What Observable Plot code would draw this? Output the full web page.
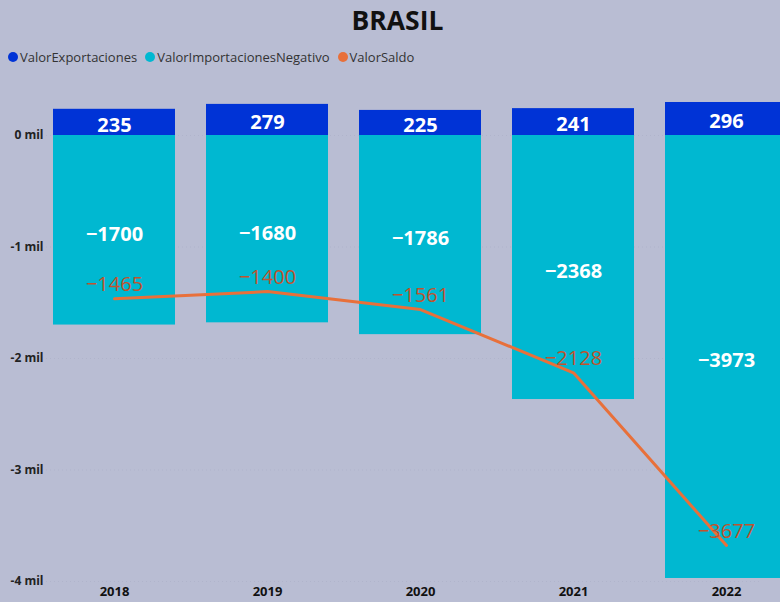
<!DOCTYPE html>
<html>
<head>
<meta charset="utf-8">
<script src="https://cdn.jsdelivr.net/npm/d3@7"></script>
<script src="https://cdn.jsdelivr.net/npm/@observablehq/plot@0.6"></script>
<style>
  html, body { margin: 0; padding: 0; background: #b9bdd3; width: 780px; height: 602px; overflow: hidden; }
  body { font-family: "Open Sans", "Noto Sans", sans-serif; }
  #title { position: absolute; left: 0; width: 795px; top: 2px; text-align: center; font-weight: 700; font-size: 26.5px; color: #111; }
  #legend { position: absolute; left: 8px; top: 48px; font-size: 13px; color: #333; display: flex; align-items: center; white-space: nowrap; }
  #legend span.item { display: inline-flex; align-items: center; margin-right: 8px; }
  #legend span.dot { width: 10px; height: 10px; border-radius: 50%; display: inline-block; margin-right: 2px; }
  #chart { position: absolute; left: 0; top: 75px; }
</style>
</head>
<body>
<div id="title">BRASIL</div>
<div id="legend"></div>
<div id="chart"></div>
<script>
const years = ["2018", "2019", "2020", "2021", "2022"];
const exportaciones = [235, 279, 225, 241, 296];
const importaciones = [-1700, -1680, -1786, -2368, -3973];
const saldo = [-1465, -1400, -1561, -2128, -3677];
const seriesNames = ["ValorExportaciones", "ValorImportacionesNegativo", "ValorSaldo"];
const seriesColors = ["#0033d6", "#00b8d1", "#e8703a"];
const yTicks = [0, -1000, -2000, -3000, -4000];

const legend = document.getElementById("legend");
seriesNames.forEach((n, i) => {
  const s = document.createElement("span");
  s.className = "item";
  s.innerHTML = `<span class="dot" style="background:${seriesColors[i]}"></span>${n}`;
  legend.appendChild(s);
});

const exp = years.map((y, i) => ({year: y, value: exportaciones[i]}));
const imp = years.map((y, i) => ({year: y, value: importaciones[i]}));
const sal = years.map((y, i) => ({year: y, value: saldo[i]}));
const fmt = d => (d < 0 ? "\u2212" : "") + Math.abs(d);

const chart = Plot.plot({
  width: 780,
  height: 527,
  marginLeft: 46,
  marginTop: 0,
  marginBottom: 21,
  style: {background: "transparent", fontFamily: "'Open Sans', 'Noto Sans', sans-serif"},
  x: {domain: years, range: [22.4, 818], padding: 0.2, label: null},
  y: {domain: [-4000, 0], range: [506, 60], label: null},
  marks: [
    Plot.ruleY(yTicks, {stroke: "#9a9fb8", strokeOpacity: 0.3, strokeDasharray: "1,3"}),
    Plot.barY(exp, {x: "year", y: "value", fill: seriesColors[0]}),
    Plot.barY(imp, {x: "year", y: "value", fill: seriesColors[1]}),
    Plot.text(exp, {x: "year", y: d => d.value / 2, text: d => fmt(d.value), fill: "white", fontWeight: "bold", fontSize: 20, dy: 3}),
    Plot.text(imp, {x: "year", y: d => d.value / 2, text: d => fmt(d.value), fill: "white", fontWeight: "bold", fontSize: 20, dy: 4}),
    Plot.line(sal, {x: "year", y: "value", stroke: seriesColors[2], strokeWidth: 3}),
    Plot.text(sal, {x: "year", y: "value", text: d => fmt(d.value), fill: "#c0532d", fontSize: 20, dy: -14}),
    Plot.axisY(yTicks, {tickFormat: d => `${d / 1000} mil`, tickSize: 0, tickPadding: 3, fontWeight: "bold", fontSize: 12, fill: "#222"}),
    Plot.axisX({tickSize: 0, tickPadding: 5, fontWeight: "bold", fontSize: 13, fill: "#111"})
  ]
});
document.getElementById("chart").appendChild(chart);
</script>
</body>
</html>
